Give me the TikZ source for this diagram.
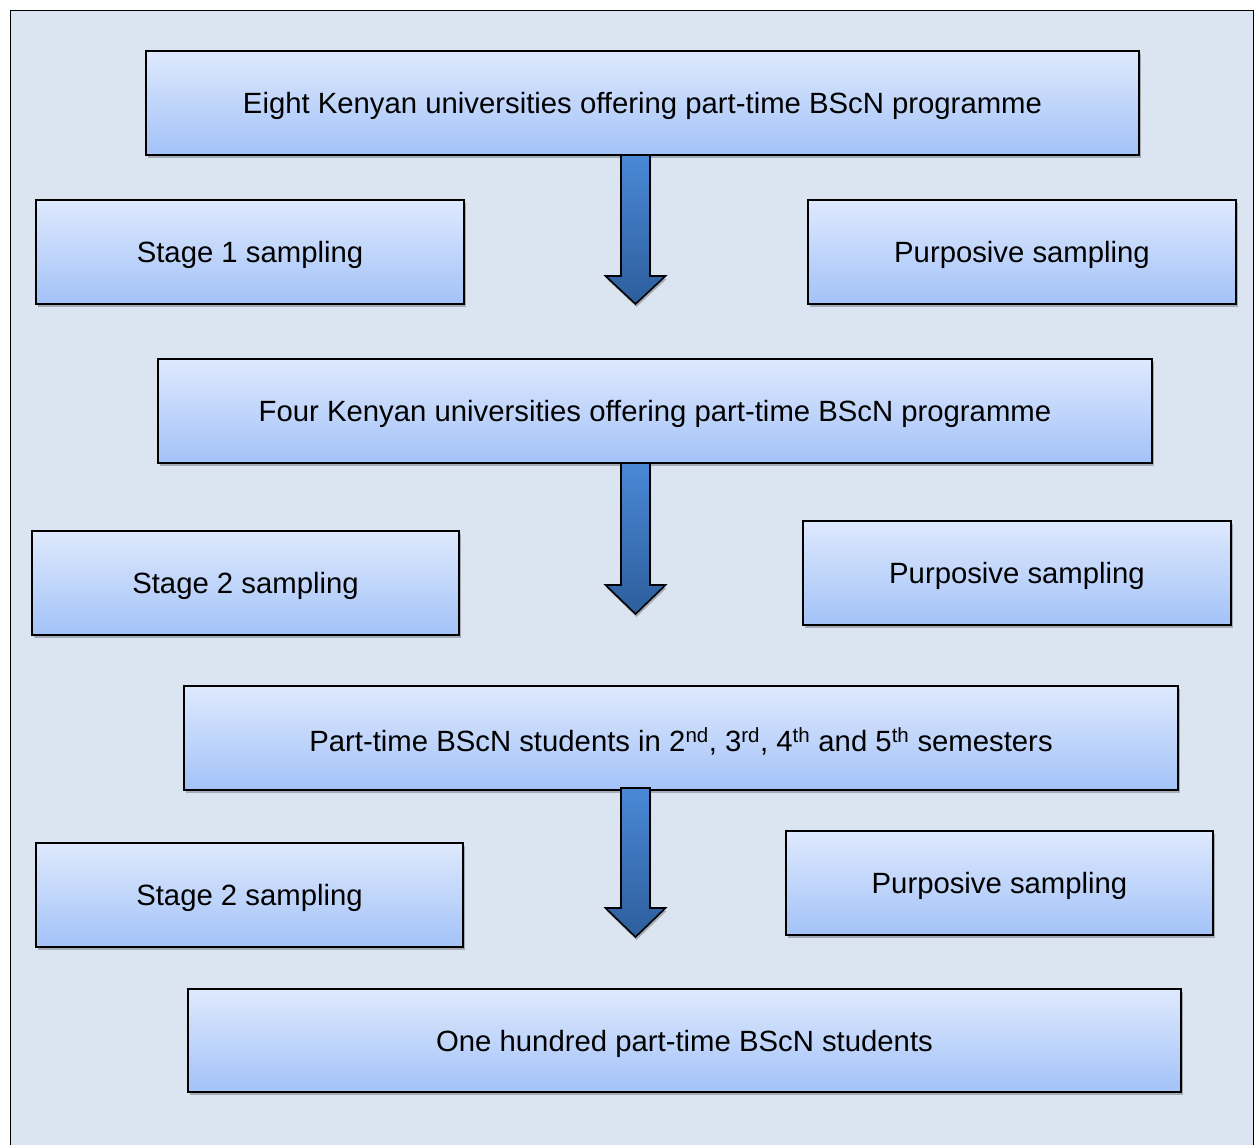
\documentclass[tikz,border=0pt]{standalone}
\usepackage{fontspec}
\setmainfont{Liberation Sans}
\usetikzlibrary{shadows,calc}
\definecolor{pagebg}{HTML}{DBE5F1}
\definecolor{boxtop}{HTML}{DEE9FD}
\definecolor{boxbot}{HTML}{A3C2F8}
\definecolor{arrtop}{HTML}{4A88D6}
\definecolor{arrbot}{HTML}{2D5E9C}
\tikzset{
  stagebox/.style={draw=black, line width=1.6pt, top color=boxtop, bottom color=boxbot,
    drop shadow={shadow xshift=2pt, shadow yshift=-3pt, opacity=0.25, fill=black}},
  stagetext/.style={font=\fontsize{29.3}{34}\selectfont, inner sep=0pt, text=black},
  downarrow/.style={draw=black, line width=1.6pt, top color=arrtop, bottom color=arrbot,
    drop shadow={shadow xshift=1pt, shadow yshift=-3pt, opacity=0.25, fill=black}},
}
% rectangle from its corners in pixel coordinates
\newcommand{\pbox}[6]{%
  \path[stagebox] (#2,#3) rectangle (#4,#5);
  \node[stagetext] (#1) at ({(#2+#4)/2},{(#3+#5)/2+3}) {#6};}
% block arrow: name, centre x, top y, shoulder y, tip y
\newcommand{\parrow}[5]{%
  \path[downarrow] (#2-14.5,#3) -- (#2+14.5,#3) -- (#2+14.5,#4) -- (#2+30,#4)
    -- (#2,#5) -- (#2-30,#4) -- (#2-14.5,#4) -- cycle;
  \coordinate (#1) at (#2,#5);}
\begin{document}
\begin{tikzpicture}[x=1pt,y=-1pt]
\useasboundingbox (0,0) rectangle (1255,1144);
\fill[pagebg] (10,10) rectangle (1253,1160);
\draw[line width=1pt] (10,1160) -- (10,10) -- (1253,10) -- (1253,1160);

\pbox{eight}{146}{51}{1139}{155}{Eight Kenyan universities offering part-time BScN programme}
\pbox{stageA}{36}{200}{464}{304}{Stage 1 sampling}
\pbox{purpA}{808}{200}{1236}{304}{Purposive sampling}
\parrow{arrA}{635.5}{155}{276}{304}

\pbox{four}{158}{359}{1152}{463}{Four Kenyan universities offering part-time BScN programme}
\pbox{stageB}{32}{531}{459}{635}{Stage 2 sampling}
\pbox{purpB}{803}{521}{1231}{625}{Purposive sampling}
\parrow{arrB}{635.5}{463}{585}{614}

\pbox{parttime}{184}{686}{1178}{790}{Part-time BScN students in 2\textsuperscript{nd}, 3\textsuperscript{rd}, 4\textsuperscript{th} and 5\textsuperscript{th} semesters}
\pbox{stageC}{36}{843}{463}{947}{Stage 2 sampling}
\pbox{purpC}{786}{831}{1213}{935}{Purposive sampling}
\parrow{arrC}{635.5}{788}{908}{937}

\pbox{hundred}{188}{989}{1181}{1092}{One hundred part-time BScN students}
\end{tikzpicture}
\end{document}
